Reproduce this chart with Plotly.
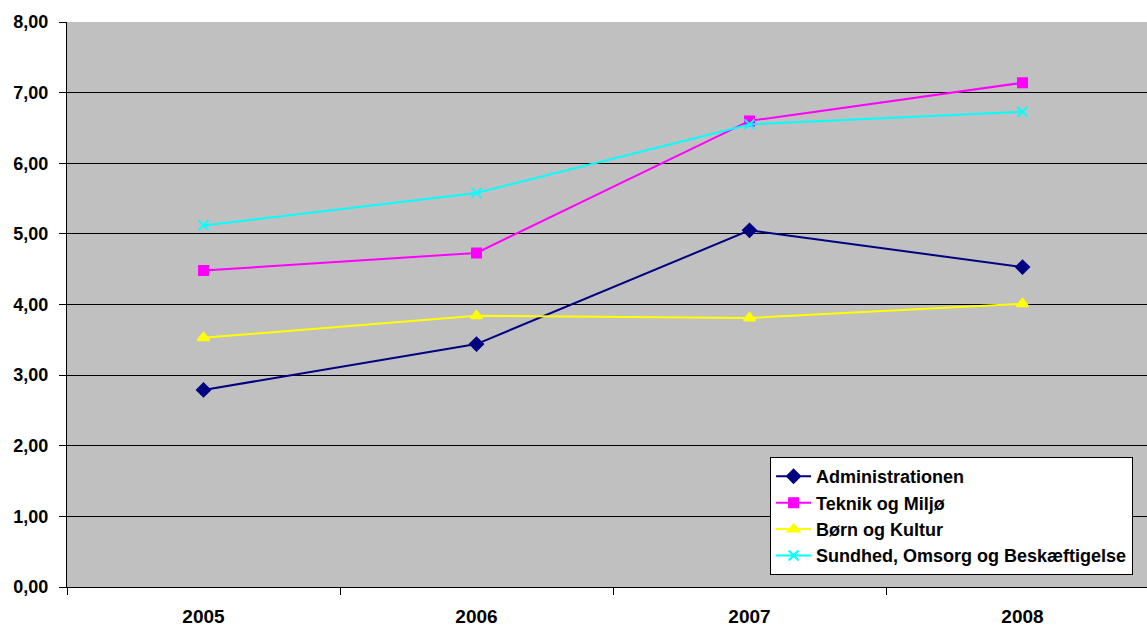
import plotly.graph_objects as go

years = ["2005", "2006", "2007", "2008"]
administrationen = [2.79, 3.44, 5.05, 4.53]
teknik_og_miljo = [4.48, 4.73, 6.60, 7.14]
born_og_kultur = [3.53, 3.84, 3.81, 4.01]
sundhed_omsorg = [5.12, 5.58, 6.55, 6.73]

y_ticks = [0, 1, 2, 3, 4, 5, 6, 7, 8]
y_tick_labels = ["0,00", "1,00", "2,00", "3,00", "4,00", "5,00", "6,00", "7,00", "8,00"]

series = [
    ("Administrationen", administrationen, "#000080", "diamond", 10),
    ("Teknik og Miljø", teknik_og_miljo, "#FF00FF", "square", 9),
    ("Børn og Kultur", born_og_kultur, "#FFFF00", "triangle-up", 10),
    ("Sundhed, Omsorg og Beskæftigelse", sundhed_omsorg, "#00FFFF", "x-thin", 10),
]

FONT = "Arial, 'Liberation Sans', sans-serif"

fig = go.Figure()
for name, vals, color, symbol, size in series:
    fig.add_trace(go.Scatter(
        x=years, y=vals, name="<b>" + name + "</b>", mode="lines+markers",
        line=dict(color=color, width=2),
        marker=dict(symbol=symbol, size=size, color=color,
                    line=dict(color=color, width=2)),
    ))

fig.update_layout(
    width=1147, height=626,
    margin=dict(l=67, r=0, t=22, b=39),
    paper_bgcolor="white",
    plot_bgcolor="#C0C0C0",
    font=dict(family=FONT, size=18, color="black"),
    showlegend=True,
    legend=dict(
        x=0.651, y=0.23, xanchor="left", yanchor="top",
        bgcolor="white", bordercolor="black", borderwidth=1,
        font=dict(family=FONT, size=18, color="black"),
        itemwidth=35, tracegroupgap=0,
    ),
)

fig.update_xaxes(
    type="category",
    range=[-0.5, 3.456],
    tickson="boundaries",
    tickvals=years,
    ticktext=["<b>" + y + "</b>" for y in years],
    ticks="outside", ticklen=7, tickcolor="black",
    ticklabelstandoff=12,
    showgrid=False,
    showline=True, linecolor="black", linewidth=1,
    tickfont=dict(family=FONT, size=19, color="black"),
)

fig.update_yaxes(
    range=[0, 8],
    tickvals=y_ticks,
    ticktext=["<b>" + t + "</b>" for t in y_tick_labels],
    ticks="outside", ticklen=7, tickcolor="black",
    ticklabelstandoff=7,
    showgrid=True, gridcolor="black", gridwidth=1,
    showline=True, linecolor="black", linewidth=1,
    zeroline=False,
    tickfont=dict(family=FONT, size=18, color="black"),
)

fig.write_html("out.html")
